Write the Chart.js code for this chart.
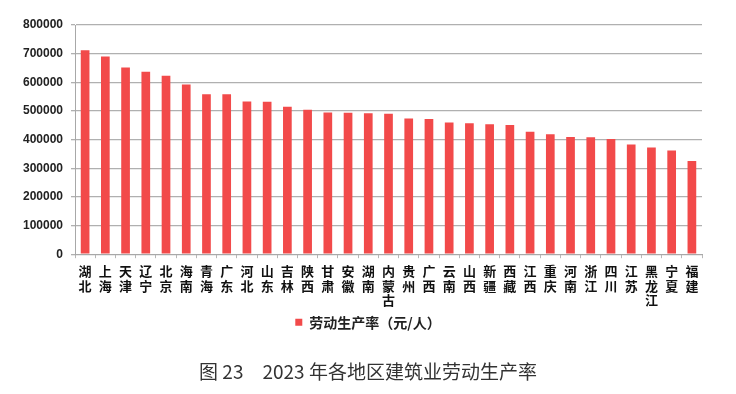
<!DOCTYPE html>
<html>
<head>
<meta charset="utf-8">
<script src="https://cdn.jsdelivr.net/npm/chart.js@4/dist/chart.umd.min.js"></script>
<style>
  html, body { margin: 0; padding: 0; background: #fff; }
  #wrap { width: 736px; height: 394px; }
</style>
</head>
<body>
<div id="wrap"><canvas id="barChart" width="736" height="394"></canvas></div>
<script>
// Regions, sorted by productivity
const regions = [
  "湖北", "上海", "天津", "辽宁", "北京", "海南", "青海", "广东", "河北", "山东",
  "吉林", "陕西", "甘肃", "安徽", "湖南", "内蒙古", "贵州", "广西", "云南", "山西",
  "新疆", "西藏", "江西", "重庆", "河南", "浙江", "四川", "江苏", "黑龙江", "宁夏", "福建"
];

// Labour productivity, yuan per person
const productivity = [
  712000, 690000, 652000, 637000, 623000, 592000, 558000, 558000, 533000, 532000,
  515000, 504000, 495000, 494000, 492000, 490000, 474000, 472000, 460000, 457000,
  454000, 451000, 427000, 419000, 409000, 408000, 402000, 383000, 372000, 362000, 325000
];

const yTicks = [0, 100000, 200000, 300000, 400000, 500000, 600000, 700000, 800000];

const seriesName = "劳动生产率（元/人）";
const figureTitle = "图 23\u30002023 年各地区建筑业劳动生产率";

document.addEventListener("DOMContentLoaded", () => {
  const ctx = document.getElementById("barChart").getContext("2d");

  // vertical text: one character per line
  const labels = regions.map((r) => r.split(""));

  new Chart(ctx, {
    type: "bar",
    data: {
      labels: labels,
      datasets: [
        {
          label: seriesName,
          data: productivity,
          backgroundColor: "#F24A4A",
          borderWidth: 0,
          barPercentage: 0.43,
          categoryPercentage: 1,
        },
      ],
    },
    options: {
      responsive: false,
      animation: false,
      layout: { padding: { left: 0, right: 0, top: 25, bottom: 11 } },
      scales: {
        x: {
          grid: {
            drawOnChartArea: false,
            color: "#b8b8b8",
            tickLength: 4,
            offset: true,
          },
          border: { color: "#a8a8a8" },
          ticks: {
            color: "#111",
            font: { family: "'Noto Sans CJK SC'", size: 13, weight: "bold", lineHeight: 1.1 },
            maxRotation: 0,
            autoSkip: false,
            padding: 6,
          },
          afterFit: (axis) => { axis.height = 56; },
        },
        y: {
          min: 0,
          max: 800000,
          afterBuildTicks: (axis) => {
            axis.ticks = yTicks.map((v) => ({ value: v }));
          },
          grid: { color: "#b0b0b0", tickLength: 4, lineWidth: 1.3 },
          border: { color: "#a8a8a8" },
          ticks: {
            color: "#222",
            font: { family: "'Liberation Sans', Arial", size: 12, weight: "bold" },
            padding: 8,
            callback: (v) => String(v),
          },
          afterFit: (axis) => { axis.width = 75; },
        },
        // empty right-hand axis, only reserves the blank margin so legend/title stay centred
        yRight: {
          position: "right",
          min: 0,
          max: 800000,
          grid: { drawOnChartArea: false, display: false },
          border: { display: false },
          ticks: { display: false },
          afterFit: (axis) => { axis.width = 34; },
        },
      },
      plugins: {
        legend: {
          position: "bottom",
          labels: {
            boxWidth: 7,
            boxHeight: 7,
            color: "#222",
            font: { family: "'Noto Sans CJK SC'", size: 14, weight: "bold" },
            padding: 5,
          },
        },
        title: {
          display: true,
          position: "bottom",
          text: figureTitle,
          color: "#333",
          font: { family: "'Noto Sans CJK SC'", size: 19, weight: "normal" },
          padding: { top: 21, bottom: 0 },
        },
        tooltip: { enabled: false },
      },
    },
  });
});
</script>
</body>
</html>
